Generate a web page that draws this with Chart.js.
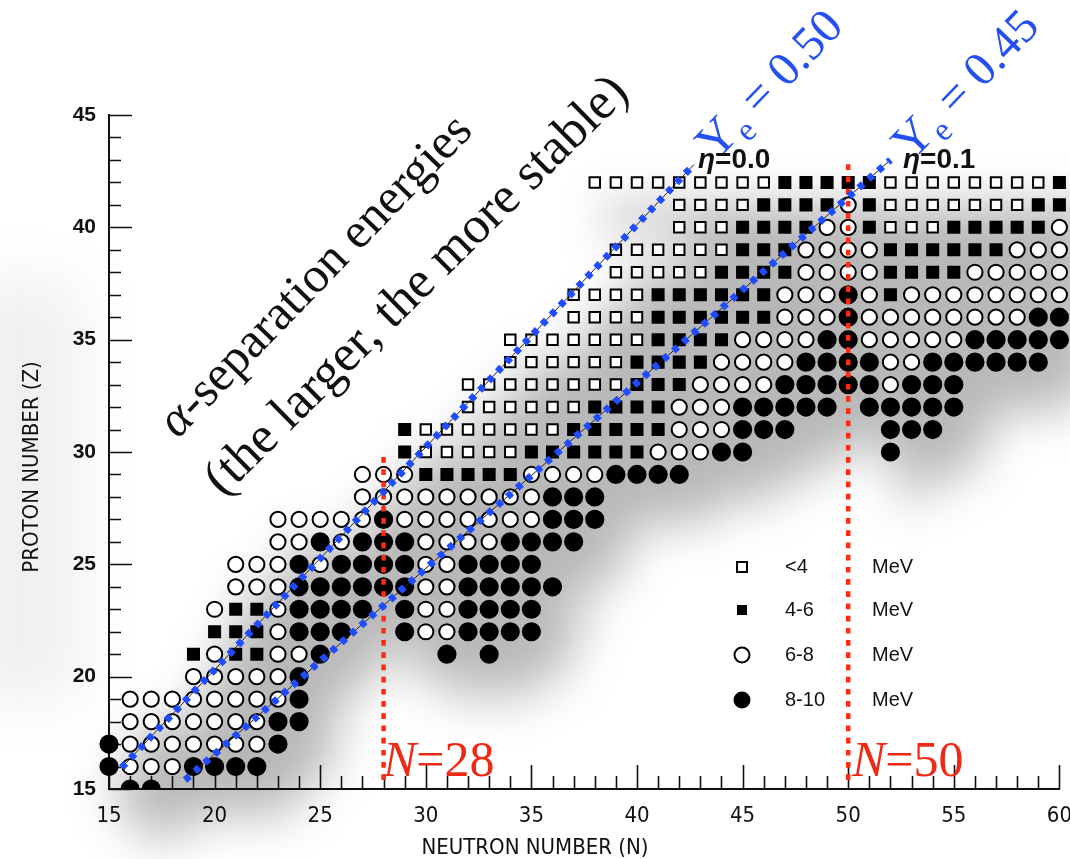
<!DOCTYPE html>
<html>
<head>
<meta charset="utf-8">
<title>Alpha-separation energies</title>
<script src="https://cdn.jsdelivr.net/npm/chart.js@4.4.1/dist/chart.umd.min.js"></script>
<style>
    html, body { margin: 0; padding: 0; background: #fff; }
    #wrap { width: 1070px; height: 859px; }
</style>
</head>
<body>
<div id="wrap"><canvas id="nuclideChart" width="1070" height="859"></canvas></div>
<script>
// one row per proton number: first neutron number of the row and one code per nucleus
// s = <4 MeV, S = 4-6 MeV, o = 6-8 MeV, O = 8-10 MeV, . = no nucleus
var protonRows   = [42, 41, 40, 39, 38, 37, 36, 35, 34, 33, 32, 31, 30, 29,
                    28, 27, 26, 25, 24, 23, 22, 21, 20, 19, 18, 17, 16, 15];
var firstNeutron = [38, 42, 42, 39, 39, 37, 37, 34, 34, 32, 32, 29, 29, 27,
                    27, 23, 23, 21, 21, 20, 20, 19, 19, 16, 16, 15, 15, 16];
var rowCodes = [
    "sssssssssSSSSSssssssssS",
    "ssssSSSSoSsssssssSS",
    "sssSSSSooSsssSSSSSo",
    "ssssssSSSooooSSSSSSooo",
    "sssssSSSSooooSSSSooooo",
    "ssssSSSSSSoooOoSoooooooo",
    "ssssSSSSSSoooOooooooooOO",
    "sssssssSSSSooooOOoooooOOOOO",
    "ssssssSSSSooooOOOOooOOOOOO",
    "ssssssssSSSooooOOOOOoOOO",
    "ssssssSSSSoooOOOOO.OOOOO",
    "SsssssssSSSSSoooOOO....OOO",
    "SsssssSSSSSSoooOO......O",
    "oooSSSSSooooOOOO",
    "oooooooooOOO",
    "oooooOoooooooOOO",
    "ooOoOOOooooOOOO",
    "oooOoOOOOooOOOO",
    "oooOOOOOOooOOOOO",
    "oSSoOOOO.OooOOOO",
    "SSSoOOO..OooOOOO",
    "SoSSooO.....O.O",
    "oooooO",
    "ooooooooO",
    "oooooooOO",
    "OoooooooO",
    "OoooOOOO",
    "OO"
];

var energyBins = ["<4", "4-6", "6-8", "8-10"];
var binCodes   = ["s", "S", "o", "O"];

// guide lines (N, Z): Ye = 0.50 (eta = 0.0), Ye = 0.45 (eta = 0.1), magic N
var ye050Line = [{x: 15.6, y: 15.95}, {x: 42.7, y: 42.8}];
var ye045Line = [{x: 18.6, y: 15.4}, {x: 52.0, y: 43.0}];
var magicN28  = [{x: 28, y: 15.4}, {x: 28, y: 29.95}];
var magicN50  = [{x: 50, y: 15.4}, {x: 50, y: 42.9}];

var markerStyles = [
    {pointStyle: 'rect',   radius: 7.4, fill: '#fff'},
    {pointStyle: 'rect',   radius: 7.8, fill: '#000'},
    {pointStyle: 'circle', radius: 7.6, fill: '#fff'},
    {pointStyle: 'circle', radius: 8.6, fill: '#000'}
];

function pointsFor(code) {
    var pts = [];
    protonRows.forEach(function (z, i) {
        var codes = rowCodes[i];
        for (var k = 0; k < codes.length; k++) {
            if (codes[k] === code) pts.push({x: firstNeutron[i] + k, y: z});
        }
    });
    return pts;
}

var datasets = binCodes.map(function (code, i) {
    var st = markerStyles[i];
    return {
        type: 'scatter',
        label: energyBins[i] + ' MeV',
        data: pointsFor(code),
        pointStyle: st.pointStyle,
        pointRadius: st.radius,
        pointBackgroundColor: st.fill,
        pointBorderColor: '#000',
        pointBorderWidth: 2,
        clip: {left: 20, top: 20, right: 20, bottom: 0},
        order: 3
    };
});

function guideLine(data, color, width, dash, order) {
    return {
        type: 'line',
        data: data.slice(),
        borderColor: color,
        borderWidth: width,
        borderDash: dash,
        borderCapStyle: 'butt',
        pointRadius: 0,
        fill: false,
        clip: false,
        order: order
    };
}

datasets.push(guideLine(ye050Line, '#222', 1, [], 2));
datasets.push(guideLine(ye045Line, '#222', 1, [], 2));
datasets.push(guideLine(magicN28, '#ff2a12', 4.5, [5.7, 6.5], 1));
datasets.push(guideLine(magicN50, '#ff2a12', 4.5, [5.7, 6.5], 1));
datasets.push(guideLine(ye050Line, '#1f4cff', 7, [6, 7], 0));
datasets.push(guideLine(ye045Line, '#1f4cff', 7, [6, 7], 0));

function drawRuns(ctx, runs, x, y, angle, centered) {
    ctx.save();
    ctx.translate(x, y);
    ctx.rotate(angle * Math.PI / 180);
    ctx.textBaseline = 'alphabetic';
    var total = 0;
    runs.forEach(function (r) {
        ctx.font = r.font;
        r.w = ctx.measureText(r.text).width;
        total += r.w;
    });
    var cx = centered ? -total / 2 : 0;
    runs.forEach(function (r) {
        ctx.font = r.font;
        ctx.fillStyle = r.color;
        ctx.fillText(r.text, cx, r.dy || 0);
        cx += r.w;
    });
    ctx.restore();
}

var figureExtras = {
    id: 'figureExtras',
    beforeDatasetsDraw: function (chart) {
        var ctx = chart.ctx;
        var xs = chart.scales.x, ys = chart.scales.y;
        var area = chart.chartArea;

        // faint grey haze along the left margin, as on the scanned figure
        ctx.save();
        ctx.filter = 'blur(30px)';
        ctx.fillStyle = 'rgba(0,0,0,0.06)';
        ctx.fillRect(-40, 280, 120, 420);
        ctx.restore();

        // blurred drop shadow under the nuclide cloud
        ctx.save();
        ctx.filter = 'blur(24px)';
        ctx.fillStyle = 'rgba(0,0,0,0.28)';
        ctx.beginPath();
        for (var d = 0; d < 4; d++) {
            chart.getDatasetMeta(d).data.forEach(function (pt) {
                ctx.rect(pt.x + 22 - 13, pt.y + 36 - 13, 26, 26);
            });
        }
        ctx.fill();
        ctx.restore();

        // inward tick marks
        ctx.save();
        ctx.strokeStyle = '#111';
        ctx.lineWidth = 1.6;
        ctx.beginPath();
        for (var n = 15; n <= 60; n++) {
            var px = Math.round(xs.getPixelForValue(n)) + 0.5;
            var len = n % 5 === 0 ? 24 : 13;
            ctx.moveTo(px, area.bottom);
            ctx.lineTo(px, area.bottom - len);
        }
        for (var z = 15; z <= 45; z++) {
            var py = Math.round(ys.getPixelForValue(z)) + 0.5;
            var ylen = z % 5 === 0 ? 23 : 12;
            ctx.moveTo(area.left, py);
            ctx.lineTo(area.left + ylen, py);
        }
        ctx.stroke();
        ctx.restore();
    },
    afterDatasetsDraw: function (chart) {
        var ctx = chart.ctx;
        var serif = '"Liberation Serif", "DejaVu Serif", serif';
        var narrow = '"Liberation Sans Narrow", "DejaVu Sans Condensed", sans-serif';
        var sans = '"Liberation Sans", Arial, sans-serif';
        var blue = '#2450f0', red = '#ee2a16';

        // axis titles
        ctx.save();
        ctx.fillStyle = '#111';
        ctx.font = '22px ' + narrow;
        ctx.textAlign = 'center';
        ctx.textBaseline = 'middle';
        ctx.fillText('NEUTRON NUMBER (N)', 535, 848);
        ctx.translate(32, 467);
        ctx.rotate(-Math.PI / 2);
        ctx.fillText('PROTON NUMBER (Z)', 0, 0);
        ctx.restore();

        // legend
        ctx.save();
        var rowsY = [567, 610, 655, 700];
        ctx.lineWidth = 2;
        ctx.strokeStyle = '#000';
        rowsY.forEach(function (y, i) {
            var x = 742;
            ctx.beginPath();
            if (i < 2) {
                ctx.rect(x - 5, y - 5, 10, 10);
            } else {
                ctx.arc(x, y, i === 2 ? 7.5 : 8.5, 0, Math.PI * 2);
            }
            ctx.fillStyle = (i === 0 || i === 2) ? '#fff' : '#000';
            ctx.fill();
            if (i === 0 || i === 2) ctx.stroke();
            ctx.fillStyle = '#111';
            ctx.font = '20px ' + sans;
            ctx.textBaseline = 'middle';
            ctx.textAlign = 'left';
            ctx.fillText(energyBins[i], 785, y);
            ctx.fillText('MeV', 872, y);
        });
        ctx.restore();

        // rotated caption
        drawRuns(ctx, [
            {text: '\u03B1', font: 'italic 50px ' + serif, color: '#111'},
            {text: '-separation energies', font: '50px ' + serif, color: '#111'}
        ], 326, 286, -46, true);
        drawRuns(ctx, [
            {text: '(the larger, the more stable)', font: '52px ' + serif, color: '#111'}
        ], 427, 296, -44.7, true);

        // Ye labels
        drawRuns(ctx, [
            {text: 'Y', font: '50px ' + serif, color: blue},
            {text: 'e', font: '33px ' + serif, color: blue, dy: 10},
            {text: ' = 0.50', font: '48px ' + serif, color: blue}
        ], 716, 162, -46, false);
        drawRuns(ctx, [
            {text: 'Y', font: '50px ' + serif, color: blue},
            {text: 'e', font: '33px ' + serif, color: blue, dy: 10},
            {text: ' = 0.45', font: '48px ' + serif, color: blue}
        ], 912, 162, -46, false);

        // eta labels
        drawRuns(ctx, [
            {text: '\u03B7', font: 'italic bold 28px ' + sans, color: '#111'},
            {text: '=0.0', font: 'bold 28px ' + sans, color: '#111'}
        ], 698, 168, 0, false);
        drawRuns(ctx, [
            {text: '\u03B7', font: 'italic bold 28px ' + sans, color: '#111'},
            {text: '=0.1', font: 'bold 28px ' + sans, color: '#111'}
        ], 903, 168, 0, false);

        // magic numbers
        drawRuns(ctx, [
            {text: 'N', font: 'italic 50px ' + serif, color: red},
            {text: '=28', font: '50px ' + serif, color: red}
        ], 383, 776, 0, false);
        drawRuns(ctx, [
            {text: 'N', font: 'italic 50px ' + serif, color: red},
            {text: '=50', font: '50px ' + serif, color: red}
        ], 852, 776, 0, false);
    }
};

var chart = new Chart(document.getElementById('nuclideChart'), {
    type: 'scatter',
    data: {datasets: datasets},
    options: {
        responsive: false,
        animation: false,
        events: [],
        layout: {padding: {left: 0, right: 10, top: 115, bottom: 0}},
        plugins: {
            legend: {display: false},
            tooltip: {enabled: false}
        },
        scales: {
            x: {
                type: 'linear',
                min: 15,
                max: 60,
                afterFit: function (scale) {
                    scale.height = 70;
                    scale.paddingLeft = 0;
                    scale.paddingRight = 0;
                },
                grid: {drawOnChartArea: false, drawTicks: false},
                border: {display: true, color: '#111', width: 2},
                ticks: {
                    stepSize: 5,
                    padding: 14,
                    maxRotation: 0,
                    color: '#111',
                    font: {family: '"Liberation Sans Narrow", "DejaVu Sans Condensed", sans-serif', size: 22}
                }
            },
            y: {
                type: 'linear',
                min: 15,
                max: 45,
                afterFit: function (scale) {
                    scale.width = 109;
                    scale.paddingTop = 0;
                    scale.paddingBottom = 0;
                },
                grid: {drawOnChartArea: false, drawTicks: false},
                border: {display: true, color: '#111', width: 2},
                ticks: {
                    stepSize: 5,
                    padding: 13,
                    color: '#111',
                    font: {family: '"Liberation Sans", Arial, sans-serif', size: 21, weight: 'bold'}
                }
            }
        }
    },
    plugins: [figureExtras]
});
</script>
</body>
</html>
